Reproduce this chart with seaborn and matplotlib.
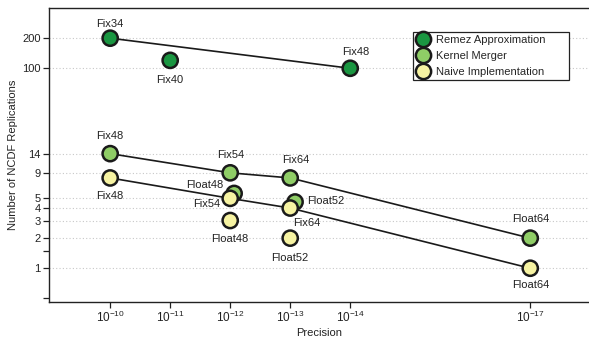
import matplotlib
matplotlib.use("Agg")
import matplotlib.pyplot as plt
import seaborn as sns
import pandas as pd

# data
methods = ["Remez Approximation", "Kernel Merger", "Naive Implementation"]
colors = ["#1a9641", "#8fcd66", "#f6f3a2"]

remez_labels = ["Fix34", "Fix40", "Fix48"]
remez_prec = [1e-10, 1e-11, 1e-14]
remez_reps = [200, 120, 100]

kernel_labels = ["Fix48", "Fix54", "Fix64", "Float48", "Float52", "Float64"]
kernel_prec = [1e-10, 1e-12, 1e-13, 8.6e-13, 8.3e-14, 1e-17]
kernel_reps = [14, 9, 8, 5.6, 4.6, 2]

naive_labels = ["Fix48", "Fix54", "Fix64", "Float48", "Float52", "Float64"]
naive_prec = [1e-10, 1e-12, 1e-13, 1e-12, 1e-13, 1e-17]
naive_reps = [8, 5, 4, 3, 2, 1]

# which points form the connected front, per method
remez_front = ["Fix34", "Fix48"]
kernel_front = ["Fix48", "Fix54", "Fix64", "Float64"]
naive_front = ["Fix48", "Fix54", "Fix64", "Float64"]

x_ticks = [1e-10, 1e-11, 1e-12, 1e-13, 1e-14, 1e-17]
x_ticklabels = ["$10^{-10}$", "$10^{-11}$", "$10^{-12}$", "$10^{-13}$", "$10^{-14}$", "$10^{-17}$"]
y_ticks = [0.5, 1, 1.5, 2, 3, 4, 5, 9, 14, 100, 200]
y_ticklabels = ["", "1", "", "2", "3", "4", "5", "9", "14", "100", "200"]

# label offsets (points) for each annotation
remez_off = [(0, 10), (0, -14), (4, 12)]
kernel_off = [(0, 13), (0, 13), (4, 13), (-21, 6), (22, 1), (0, 14)]
naive_off = [(0, -13), (-17, -4), (12, -11), (0, -13), (0, -14), (0, -12)]

frames = []
for m, lab, p, r in [(methods[0], remez_labels, remez_prec, remez_reps),
                     (methods[1], kernel_labels, kernel_prec, kernel_reps),
                     (methods[2], naive_labels, naive_prec, naive_reps)]:
    frames.append(pd.DataFrame({"method": m, "label": lab, "precision": p, "reps": r}))
df = pd.concat(frames, ignore_index=True)

sns.set_style("ticks")
plt.rcParams["font.family"] = ["Liberation Sans", "DejaVu Sans"]
plt.rcParams["mathtext.default"] = "regular"
plt.rcParams["axes.unicode_minus"] = True

fig = plt.figure(figsize=(5.89, 3.37), dpi=100)
ax = fig.add_axes([0.083, 0.104, 0.917, 0.872])

# horizontal dotted grid at labelled ticks
for yt, yl in zip(y_ticks, y_ticklabels):
    if yl:
        ax.axhline(yt, color="#c8c8c8", lw=0.8, ls=(0, (1, 2)), zorder=0)

# front lines
for m, front in zip(methods, [remez_front, kernel_front, naive_front]):
    sub = df[(df["method"] == m) & (df["label"].isin(front))]
    sub = sub.set_index("label").loc[front].reset_index()
    sns.lineplot(data=sub, x="precision", y="reps", sort=False, color="#1a1a1a",
                 lw=1.2, ax=ax, zorder=2, legend=False)

sns.scatterplot(data=df, x="precision", y="reps", hue="method", hue_order=methods,
                palette=colors, s=120, edgecolor="#1a1a1a", linewidth=1.8,
                ax=ax, zorder=3)

for m, offs in zip(methods, [remez_off, kernel_off, naive_off]):
    sub = df[df["method"] == m].reset_index(drop=True)
    for i, row in sub.iterrows():
        ax.annotate(row["label"], (row["precision"], row["reps"]), xytext=offs[i],
                    textcoords="offset points", ha="center", va="center",
                    fontsize=8, color="#222222", zorder=4)

ax.set_xscale("log")
ax.set_yscale("log")
ax.set_xlim(1.05e-9, 1.05e-18)
ax.set_ylim(0.46, 400)
ax.set_xticks(x_ticks)
ax.set_xticklabels(x_ticklabels)
ax.set_yticks(y_ticks)
ax.set_yticklabels(y_ticklabels)
ax.minorticks_off()
ax.tick_params(labelsize=8, colors="#222222", length=4, width=0.9, pad=2)
ax.tick_params(axis="x", labelsize=8.5)

ax.set_xlabel("Precision", fontsize=8, color="#222222", labelpad=2)
ax.set_ylabel("Number of NCDF Replications", fontsize=8, color="#222222", labelpad=3)

for side in ["left", "bottom", "top"]:
    ax.spines[side].set_color("#222222")
    ax.spines[side].set_linewidth(1.0)
ax.spines["right"].set_visible(False)

leg = ax.legend(loc="upper left", bbox_to_anchor=(0.674, 0.918, 0.289, 0.0),
                mode="expand", fontsize=8, frameon=True, fancybox=False,
                framealpha=1, edgecolor="#222222", borderpad=0.25,
                handletextpad=0.5, labelspacing=0.55, handlelength=1.3,
                borderaxespad=0)
leg.get_frame().set_linewidth(0.9)
for h in leg.legend_handles:
    h.set_markersize(11)
    h.set_markeredgecolor("#1a1a1a")
    h.set_markeredgewidth(1.8)

fig.savefig("out.png", dpi=100)
